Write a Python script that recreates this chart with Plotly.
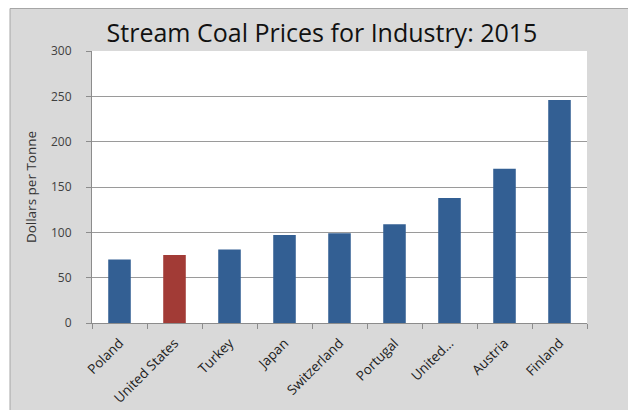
import plotly.graph_objects as go

countries = ["Poland", "United States", "Turkey", "Japan", "Switzerland",
             "Portugal", "United...", "Austria", "Finland"]
prices = [70, 75, 81, 97, 99, 109, 138, 170, 246]
bar_colors = ["#335f93", "#a23b36", "#335f93", "#335f93", "#335f93",
              "#335f93", "#335f93", "#335f93", "#335f93"]
y_ticks = [0, 50, 100, 150, 200, 250, 300]

W, H = 628, 410
ml, mt = 92, 51
pw, ph = 495, 272
mr = W - ml - pw
mb = H - mt - ph

def px(x):
    return (x - ml) / pw

def py(y):
    return (H - mb - y) / ph

fig = go.Figure()
fig.add_trace(go.Bar(x=countries, y=prices, marker=dict(color=bar_colors, line=dict(width=0)),
                     width=0.41, hoverinfo="x+y"))

fig.add_shape(type="rect", xref="paper", yref="paper",
              x0=px(10), x1=px(700), y0=py(8.5), y1=py(480),
              fillcolor="#d9d9d9", line=dict(color="#a6a6a6", width=1), layer="below")
fig.add_shape(type="rect", xref="paper", yref="paper",
              x0=0, x1=1, y0=0, y1=1,
              fillcolor="white", line=dict(width=0), layer="below")

fig.update_layout(
    width=W, height=H,
    margin=dict(l=ml, r=mr, t=mt, b=mb, autoexpand=False),
    paper_bgcolor="white",
    plot_bgcolor="rgba(0,0,0,0)",
    showlegend=False,
    title=dict(text="Stream Coal Prices for Industry: 2015",
               x=322 / W, xanchor="center", xref="container",
               y=1 - 33 / H, yanchor="middle",
               font=dict(family="Open Sans", size=25, color="#111111")),
    font=dict(family="Open Sans", color="#404040"),
    bargap=0.59,
)
fig.update_xaxes(
    automargin=False,
    showline=True, linecolor="#8c8c8c", linewidth=1,
    ticks="outside", ticklen=5, tickcolor="#8c8c8c",
    tickson="boundaries", tickangle=-45,
    ticklabelstandoff=6,
    tickfont=dict(family="Open Sans", size=13.5, color="#222222"),
    showgrid=False,
)
fig.update_yaxes(
    automargin=False,
    range=[0, 300], tickvals=y_ticks, ticktext=[str(v) for v in y_ticks],
    showline=True, linecolor="#8c8c8c", linewidth=1,
    ticks="outside", ticklen=5, tickcolor="#8c8c8c",
    ticklabelstandoff=12,
    showgrid=True, gridcolor="#9a9a9a", gridwidth=1,
    zeroline=False,
    tickfont=dict(family="Open Sans", size=12, color="#404040"),
    title=dict(text="Dollars per Tonne", standoff=11,
               font=dict(family="Open Sans", size=13.5, color="#333333")),
)
fig.write_html("out.html",
               config={"displayModeBar": False},
               post_script="document.body.style.margin='0';document.body.style.overflow='hidden';")
